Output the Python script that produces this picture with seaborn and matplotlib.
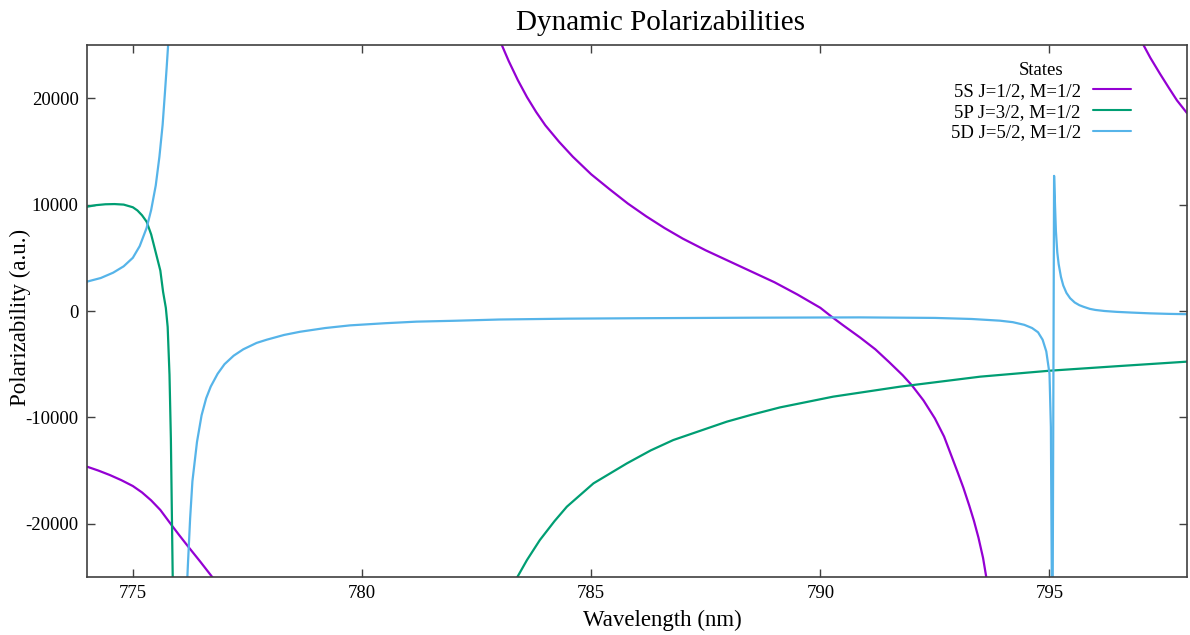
import numpy as np
import pandas as pd
import matplotlib
matplotlib.use("Agg")
import matplotlib.pyplot as plt
from matplotlib.lines import Line2D
import seaborn as sns

# ---- data (wavelength in nm, polarizability in a.u.) ----
states = ["5S J=1/2, M=1/2", "5P J=3/2, M=1/2", "5D J=5/2, M=1/2"]
colors = ["#9400D3", "#009E73", "#56B4E9"]

# 5S
s5_wl_a = [774.0, 774.25, 774.5, 774.75, 775.0, 775.2, 775.4, 775.6, 775.85, 776.0,
           776.2, 776.47, 776.75, 776.8]
s5_val_a = [-14630, -15000, -15420, -15900, -16450, -17050, -17800, -18700, -20150, -21000,
            -22100, -23550, -25100, -25400]
s5_wl_b = [783.0, 783.05, 783.2, 783.4, 783.6, 783.8, 784.0, 784.3, 784.6, 785.0,
           785.4, 785.8, 786.2, 786.6, 787.0, 787.5, 788.0, 788.5, 789.0, 789.5,
           790.0, 790.25, 790.5, 790.87, 791.2, 791.5, 791.8, 792.0, 792.25, 792.5,
           792.7, 792.85, 793.0, 793.12, 793.25, 793.35, 793.45, 793.55, 793.62, 793.65]
s5_val_b = [25600, 25000, 23500, 21700, 20100, 18700, 17450, 15900, 14500, 12850,
            11450, 10100, 8900, 7800, 6800, 5700, 4700, 3700, 2700, 1550,
            300, -550, -1350, -2500, -3600, -4800, -6050, -7000, -8400, -10100,
            -11800, -13500, -15200, -16600, -18300, -19700, -21300, -23200, -25000, -25600]
s5_wl_c = [797.0, 797.05, 797.2, 797.41, 797.6, 797.78, 798.0]
s5_val_c = [25600, 25000, 23800, 22300, 21000, 19800, 18600]

# 5P
p5_wl_a = [774.0, 774.2, 774.4, 774.6, 774.8, 775.0, 775.1, 775.2, 775.3, 775.4,
           775.5, 775.6, 775.66, 775.72, 775.76, 775.8, 775.83, 775.85, 775.87, 775.88]
p5_val_a = [9800, 9950, 10030, 10050, 10000, 9750, 9450, 9000, 8400, 7200,
            5500, 3800, 1800, 300, -1500, -6000, -12000, -18500, -25000, -25500]
p5_wl_b = [783.35, 783.39, 783.6, 783.88, 784.2, 784.47, 785.05, 785.78, 786.3, 786.79,
           787.96, 788.5, 789.12, 790.28, 791.74, 793.49, 795.01, 796.5, 798.0]
p5_val_b = [-25500, -25000, -23400, -21530, -19750, -18390, -16200, -14320, -13100, -12130,
            -10400, -9750, -9060, -8050, -7110, -6170, -5610, -5180, -4760]

# 5D
d5_wl_a = [774.0, 774.3, 774.57, 774.8, 775.0, 775.15, 775.3, 775.4, 775.5, 775.58,
           775.65, 775.7, 775.74, 775.77, 775.78]
d5_val_a = [2760, 3100, 3600, 4200, 5000, 6100, 7800, 9500, 11800, 14500,
            17500, 20500, 23000, 25000, 26000]
d5_wl_b = [776.18, 776.2, 776.25, 776.3, 776.4, 776.5, 776.6, 776.7, 776.85, 777.0,
           777.2, 777.41, 777.7, 777.92, 778.3, 778.65, 779.2, 779.74, 780.5, 781.19,
           782.0, 783.0, 784.5, 786.0, 788.5, 790.87, 792.5, 793.3, 793.92, 794.2,
           794.45, 794.62, 794.75, 794.85, 794.93, 795.0, 795.03, 795.05, 795.055]
d5_val_b = [-26000, -24000, -19500, -16000, -12300, -9800, -8200, -7100, -5900, -5000,
            -4200, -3600, -3000, -2700, -2250, -1950, -1600, -1350, -1150, -1000,
            -920, -800, -720, -680, -630, -600, -650, -750, -910, -1050,
            -1300, -1600, -2000, -2700, -3800, -5900, -10900, -25000, -26000]
d5_wl_c = [795.07, 795.1, 795.12, 795.14, 795.17, 795.2, 795.25, 795.3, 795.37, 795.45,
           795.55, 795.65, 795.74, 795.88, 796.0, 796.2, 796.46, 796.8, 797.19, 797.6, 798.0]
d5_val_c = [-26000, 12700, 10000, 7500, 5500, 4400, 3200, 2400, 1700, 1200,
            800, 550, 400, 200, 100, 0, -80, -150, -220, -270, -300]

x_ticks = [775, 780, 785, 790, 795]
y_ticks = [-20000, -10000, 0, 10000, 20000]

# ---- assemble long table ----
segments = [
    (states[0], "a", s5_wl_a, s5_val_a), (states[0], "b", s5_wl_b, s5_val_b),
    (states[0], "c", s5_wl_c, s5_val_c),
    (states[1], "a", p5_wl_a, p5_val_a), (states[1], "b", p5_wl_b, p5_val_b),
    (states[2], "a", d5_wl_a, d5_val_a), (states[2], "b", d5_wl_b, d5_val_b),
    (states[2], "c", d5_wl_c, d5_val_c),
]
rows = []
for st, seg, wl, val in segments:
    for w, v in zip(wl, val):
        rows.append({"Wavelength": w, "Polarizability": v, "State": st,
                     "Segment": st + seg})
df = pd.DataFrame(rows)

sns.set_style("ticks")
plt.rcParams["font.family"] = ["Liberation Serif", "DejaVu Serif"]
plt.rcParams["text.color"] = "black"
plt.rcParams["axes.labelcolor"] = "black"

fig = plt.figure(figsize=(11.9, 6.35), dpi=100)
ax = fig.add_axes([87 / 1190, 1 - 577 / 635, 1100 / 1190, 532 / 635])

sns.lineplot(data=df, x="Wavelength", y="Polarizability", hue="State",
             units="Segment", estimator=None, sort=False,
             palette=dict(zip(states, colors)), hue_order=states,
             linewidth=1.6, legend=False, ax=ax)

ax.set_xlim(774, 798)
ax.set_ylim(-25000, 25000)
ax.set_xticks(x_ticks)
ax.set_yticks(y_ticks)
ax.set_xticklabels([str(t) for t in x_ticks])
ax.set_yticklabels([str(t) for t in y_ticks])
ax.tick_params(direction="in", length=6, width=1, top=True, right=True,
               labelsize=13.5, colors="#404040", labelcolor="black", pad=6)
for sp in ax.spines.values():
    sp.set_visible(True)
    sp.set_color("#404040")
    sp.set_linewidth(1.2)

ax.set_xlabel("Wavelength (nm)", fontsize=16.5, color="black")
ax.xaxis.set_label_coords((662 - 87) / 1100, (577 - 620) / 532)
ax.xaxis.label.set_va("center")
ax.set_ylabel("Polarizability (a.u.)", fontsize=16.5, color="black")
ax.yaxis.set_label_coords((20 - 87) / 1100, (577 - 317) / 532)
ax.yaxis.label.set_va("center")
ax.set_title("Dynamic Polarizabilities", fontsize=21, color="black",
             x=(660 - 87) / 1100, pad=11)

handles = [Line2D([0], [0], color=c, lw=1.5) for c in colors]
leg = ax.legend(handles, states, title="States", loc="upper right",
                bbox_to_anchor=(0.964, 1.0), frameon=False, markerfirst=False,
                fontsize=13.5, title_fontsize=13.5, handlelength=2.0,
                labelspacing=0.2, handletextpad=0.65, labelcolor="black")
leg.get_title().set_color("black")

fig.savefig("out.png", dpi=100)
